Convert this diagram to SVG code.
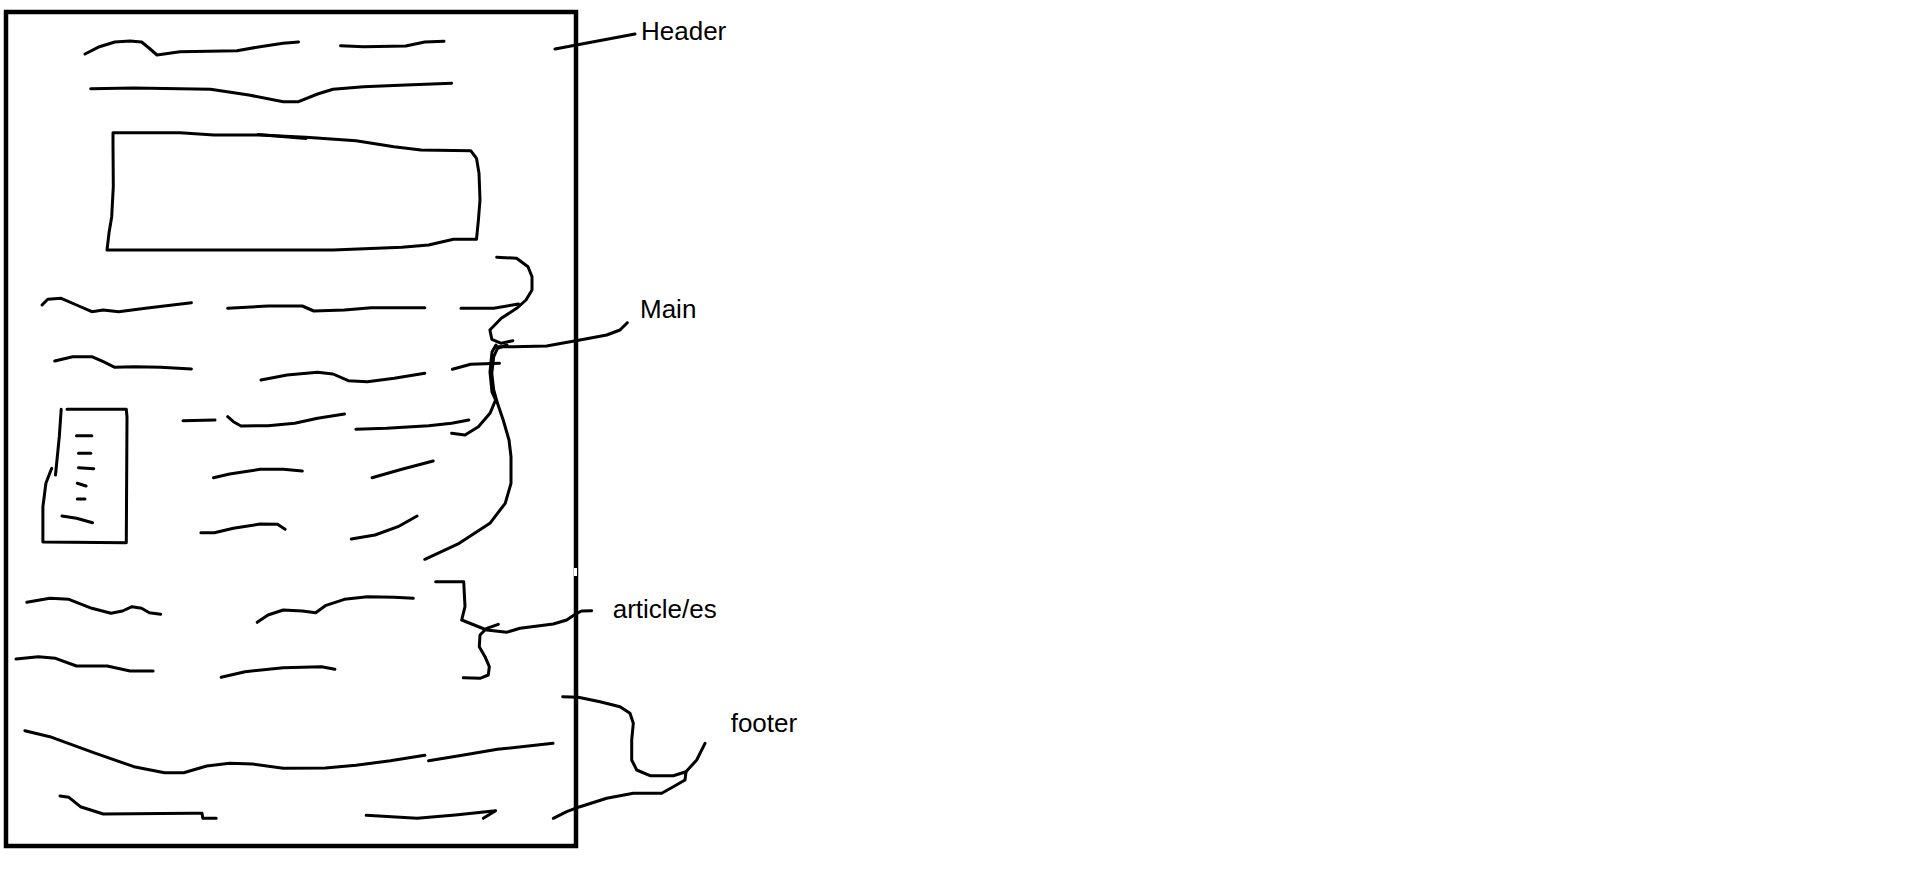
<svg xmlns="http://www.w3.org/2000/svg" width="1914" height="874" viewBox="0 0 1914 874">
<style>
.s{fill:none;stroke:#000;stroke-width:3;stroke-linecap:round;stroke-linejoin:round}
.frame{fill:none;stroke:#000;stroke-width:4.5}
.lbl{font-family:"Liberation Sans",Arial,sans-serif;font-size:26px;fill:#000}
</style>
<rect width="1914" height="874" fill="#fff"/>
<g id="page">
<rect class="frame" x="6" y="12" width="570" height="834"/>
<rect x="574" y="568" width="3" height="8" fill="#fff"/>
</g>
<g id="header">
<polyline class="s" points="85,54 99.5,46.7 114.8,42 130,41 141.6,42 149,48 157,55 180,51.7 237,50.7 260,46.7 283,43.3 298.5,42"/>
<polyline class="s" points="340.6,45.7 363.6,46.7 405.7,46 424.8,42 444,41.3"/>
<polyline class="s" points="90.7,88.7 134,88 210.5,89.3 248.8,95 283.2,101.7 298.5,101.7 317.6,94 333,89.3 363.6,86.7 405.7,85 451.6,83.3"/>
<polyline class="s" points="113,132.7 180,132.7 214,135 260,135 306,137.3 356,140.7 394,146.7 421,150 470.7,150.7 476.5,158.3 479,173.3 480,200 478.4,220 476.5,239.3 453.5,239.3 428.6,245 401.8,247.3 333,250 107,250 109,233 111.7,216.7 113.3,186.7 113,143.3 113,132.7"/>
<polyline class="s" points="258,134.5 306,138.5" stroke-width="5"/>
</g>
<g id="main">
<polyline class="s" points="42,305 47.8,299.3 61.2,298.3 76.5,305 91.8,311.7 103.3,310 118.6,311.7 145.4,308.3 191.4,302.7"/>
<polyline class="s" points="227.7,308.3 268,306 302.3,306 313.8,311 344.4,310 371.2,307.7 424.8,307.7"/>
<polyline class="s" points="461,308.3 493.7,308.3 518.5,304"/>
<polyline class="s" points="54.7,361 72.7,356.7 91.8,356.7 103.3,361.7 114.8,367.3 134,366.7 160.7,367.3 191.4,369"/>
<polyline class="s" points="261,380 287,375 317.6,372.3 333,374 348.3,380.7 367.4,381.7 394.2,378.3 424.8,373.3"/>
<polyline class="s" points="452.4,369.3 470.7,364.3 499.4,363.3"/>
<polyline class="s" points="67,409.3 126.3,409.3 127,417 126.3,542.7 42.9,542 42.9,506.7 45.9,483.3 51.7,468.3"/>
<polyline class="s" points="61.2,409.3 59.3,436.7 55.5,475"/>
<line class="s" x1="76.5" y1="435.7" x2="91.8" y2="435.7"/>
<line class="s" x1="78.5" y1="453.3" x2="90.7" y2="453.3"/>
<line class="s" x1="78.5" y1="467.7" x2="93.8" y2="468.7"/>
<line class="s" x1="77.3" y1="483.3" x2="86.1" y2="486"/>
<line class="s" x1="77.3" y1="499" x2="85" y2="499"/>
<polyline class="s" points="62,516 76.5,518.3 92.6,522.7"/>
<polyline class="s" points="183,420.7 215,420"/>
<polyline class="s" points="227.7,416.7 233.4,421.7 241,426 268,425.7 294.7,423.3 317.6,418.3 344.4,414"/>
<polyline class="s" points="355.9,429.3 386.5,428.3 428.6,425.7 451.6,423.3 468.8,420"/>
<polyline class="s" points="213.5,477.7 229.6,474 260.2,469.3 283.2,469.3 302.3,471"/>
<polyline class="s" points="372,477.7 401.8,469.3 433.2,461"/>
<polyline class="s" points="200.9,532.7 214.3,532.7 233.4,528.3 260.2,524 277.5,524.3 285.1,529.3"/>
<polyline class="s" points="351.3,539 375,535 398,526.7 417.1,516"/>
</g>
<g id="articles">
<polyline class="s" points="26.8,602.3 49.8,598.3 68.9,599.3 91.8,608.3 111,613.3 122.5,611 132,606.7 141.6,608.3 149.3,612.7 160.7,614.3"/>
<polyline class="s" points="257.2,622.3 268,615 283.2,610 302.3,611 315.7,612.7 325.3,605.7 344.4,599.3 367.4,596.7 394.2,597.3 413.3,598.3"/>
<polyline class="s" points="16,659 38.3,656.7 55.5,658.3 76.5,666 107.2,666 130.1,671 153.1,671"/>
<polyline class="s" points="221.2,677.3 245,671.7 283.2,667.7 321.5,666.7 334.9,669.3"/>
</g>
<g id="footer">
<polyline class="s" points="24.9,730.7 49.8,736.7 95.7,753.3 133.9,766.7 164.6,772.7 183.7,772.7 206.7,766 229.6,763.3 252.6,764 283.2,768.3 325.3,768 355.9,765.3 390.4,760.7 424.8,755.3"/>
<polyline class="s" points="428.6,760.7 459.2,755.7 497.5,749.3 553,743.3"/>
<polyline class="s" points="60,796 68.9,797.3 80.4,806.7 103.3,814 191.4,813.3 202,813.3 202.8,818.3 216.2,818.3"/>
<polyline class="s" points="366.2,815.3 417.1,818.3 455.4,815 495.6,810.7 483.3,818.3"/>
</g>
<g id="connectors">
<line class="s" x1="555" y1="49" x2="635" y2="34" stroke-width="5"/>
<polyline class="s" points="496.7,257.3 516.6,258.3 528,266.7 532,276.7 532,290 526,300 516.6,308.3 501.3,318.3 489.9,330 491.8,339.3 501.3,343.3 512.8,340.7"/>
<polyline class="s" points="507,345 497.5,348.3 493.7,356.7 491.8,373.3 493.7,390 497.5,403.3 503.2,420 509,440 511,456.7 511,483.3 505.2,503.3 489.9,523.3 459.2,543.3 424.8,559.3"/>
<polyline class="s" points="496,345 492,352 490,372 492,392 495.6,400 490,413.3 478.4,426.7 465,435 451.6,433.3"/>
<polyline class="s" points="495.6,346.7 513.3,346.7 546.7,346 561.7,343.3 580,340 606.7,335 620,330 627.3,322.7"/>
<polyline class="s" points="435.7,581.7 463.7,581.7 465,606.7 461.7,620 486.7,630 506.7,632.3 520,628.3 553.3,624 566.7,620 576.7,613.3 581.7,611 591.7,610.7"/>
<polyline class="s" points="498.3,624.3 486.7,628.3 480,635 479.3,646.7 485,656.7 489.3,666.7 488.3,675 480,678.3 463.3,677.7"/>
<polyline class="s" points="562.7,696.7 578.3,697.3 600,701.7 620,706.7 630,713.3 633.3,723.3 631.7,740 631.7,760 636.7,770 650,775.7 673.3,775.7 686,771.7 696.7,760 705,743.3"/>
<polyline class="s" points="686,771.7 685,780 673.3,786.7 661.7,793.3 633.3,793.3 606.7,798.3 580,806.7 566.7,811.7 553.3,818.3"/>
</g>
<g id="labels">
<text class="lbl" x="641" y="40">Header</text>
<text class="lbl" x="640" y="318">Main</text>
<text class="lbl" x="612.7" y="618">article/es</text>
<text class="lbl" x="730.7" y="731.7">footer</text>
</g>
</svg>
